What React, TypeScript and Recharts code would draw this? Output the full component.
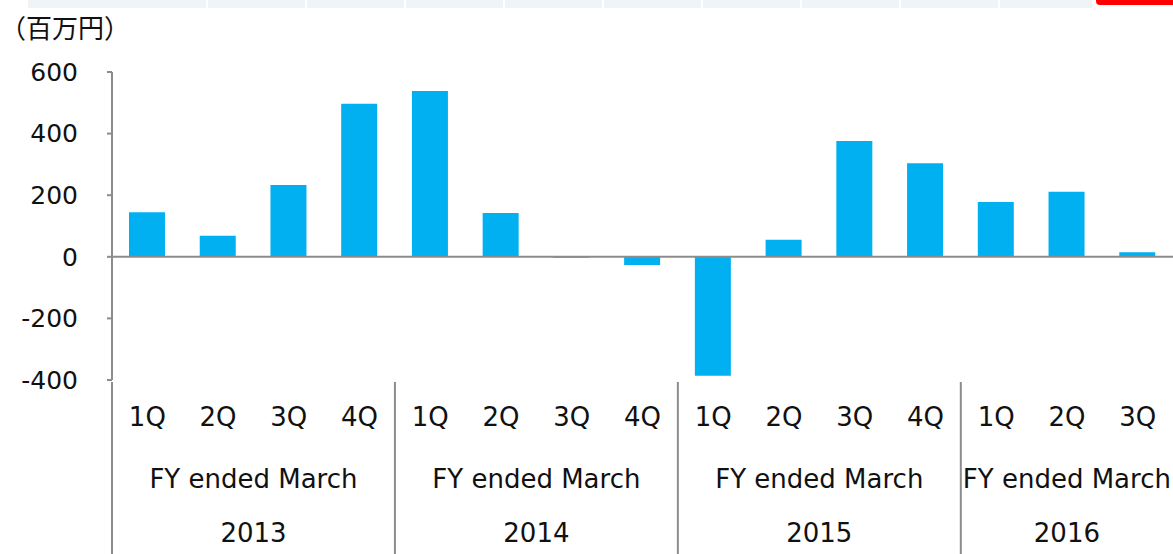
import { BarChart, Bar, XAxis, YAxis, ReferenceLine } from 'recharts'

const quarters = ['1Q', '2Q', '3Q', '4Q', '1Q', '2Q', '3Q', '4Q', '1Q', '2Q', '3Q', '4Q', '1Q', '2Q', '3Q']
const fiscalYears = ['2013', '2013', '2013', '2013', '2014', '2014', '2014', '2014', '2015', '2015', '2015', '2015', '2016', '2016', '2016']
const profit = [145, 68, 233, 497, 538, 142, -3, -27, -386, 55, 376, 304, 178, 211, 15]
const yTicks = [-400, -200, 0, 200, 400, 600]
const groupPrefix = 'FY ended March'
const unitLabel = '（百万円）'

const data = quarters.map((q, i) => ({ key: i, q, fy: fiscalYears[i], value: profit[i] }))

const FONT = '"DejaVu Sans", "Noto Sans CJK JP", sans-serif'
const GRAY = '#8c8c8c'

// quarter label + group separator + group label, all from the tick position
function QuarterTick(props: any) {
  const { x, y, payload } = props
  const i = payload.index
  const half = payload.offset || 35.4
  const fy = fiscalYears[i]
  const isFirst = i === 0 || fiscalYears[i - 1] !== fy
  let count = 0
  fiscalYears.forEach((f) => { if (f === fy) count++ })
  const center = x + (count - 1) * half
  return (
    <g>
      <text x={x} y={y + 46} textAnchor="middle" fontSize={26} fill="#111" fontFamily={FONT}>
        {quarters[i]}
      </text>
      {isFirst && (
        <g>
          <line x1={x - half} x2={x - half} y1={y + 2} y2={y + 174} stroke={GRAY} strokeWidth={2} />
          <text x={center} y={y + 108} textAnchor="middle" fontSize={26} fill="#111" fontFamily={FONT}>
            {groupPrefix}
          </text>
          <text x={center} y={y + 162} textAnchor="middle" fontSize={26} fill="#111" fontFamily={FONT}>
            {fy}
          </text>
        </g>
      )}
    </g>
  )
}

const stripStarts = [28, 208, 307, 406, 505, 604, 703, 802, 901, 1000]

export default function App() {
  return (
    <div style={{ position: 'fixed', left: 0, top: 0, width: 1173, height: 554, background: '#fff', overflow: 'hidden' }}>
      {stripStarts.map((s, i) => (
        <div
          key={i}
          style={{
            position: 'absolute', top: 0, left: s, height: 8,
            width: (i < stripStarts.length - 1 ? stripStarts[i + 1] : 1094) - s - 2,
            background: '#eef4f8',
          }}
        />
      ))}
      <div style={{ position: 'absolute', top: 0, left: 1096, width: 80, height: 5, background: '#f00', borderBottomLeftRadius: 4 }} />
      <div style={{ position: 'absolute', top: 8, left: 0, fontSize: 26, fontFamily: FONT, color: '#111' }}>{unitLabel}</div>
      <BarChart width={1173} height={554} data={data} margin={{ top: 72, right: 0, left: 0, bottom: 0 }}>
        <YAxis
          width={112}
          domain={[-400, 600]}
          ticks={yTicks}
          interval={0}
          tickSize={5}
          tickMargin={29}
          axisLine={{ stroke: GRAY, strokeWidth: 2 }}
          tickLine={{ stroke: GRAY, strokeWidth: 2 }}
          tick={{ fill: '#111', fontSize: 25, fontFamily: FONT }}
        />
        <XAxis
          dataKey="key"
          height={174}
          interval={0}
          axisLine={false}
          tickLine={false}
          tickSize={0}
          tickMargin={0}
          tick={<QuarterTick />}
        />
        <Bar dataKey="value" fill="#00b0f0" barSize={36} isAnimationActive={false} />
        <ReferenceLine y={0} stroke={GRAY} strokeWidth={2} />
      </BarChart>
    </div>
  )
}
